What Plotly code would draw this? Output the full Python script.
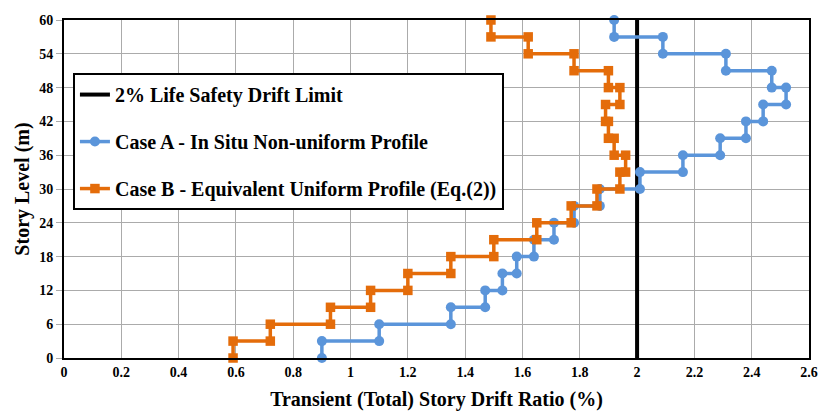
import plotly.graph_objects as go

# Story segments: each segment spans [bottom, bottom+3] m
segment_bottom = [0, 3, 6, 9, 12, 15, 18, 21, 24, 27, 30, 33, 36, 39, 42, 45, 48, 51, 54, 57]
story_height = 3

case_a_drift = [0.90, 1.10, 1.35, 1.47, 1.53, 1.58, 1.64, 1.71, 1.78, 1.87,
                2.01, 2.16, 2.29, 2.38, 2.44, 2.52, 2.47, 2.31, 2.09, 1.92]
case_b_drift = [0.59, 0.72, 0.93, 1.07, 1.20, 1.35, 1.50, 1.65, 1.77, 1.86,
                1.94, 1.96, 1.92, 1.90, 1.89, 1.94, 1.90, 1.78, 1.62, 1.49]

limit_x = [2.0, 2.0]
limit_y = [0, 60]

x_ticks = [0, 0.2, 0.4, 0.6, 0.8, 1.0, 1.2, 1.4, 1.6, 1.8, 2.0, 2.2, 2.4, 2.6]
x_tick_text = ["0", "0.2", "0.4", "0.6", "0.8", "1", "1.2", "1.4", "1.6", "1.8", "2", "2.2", "2.4", "2.6"]
y_ticks = [0, 6, 12, 18, 24, 30, 36, 42, 48, 54, 60]


def step_points(drifts):
    xs, ys = [], []
    for b, d in zip(segment_bottom, drifts):
        xs += [d, d]
        ys += [b, b + story_height]
    return xs, ys


ax, ay = step_points(case_a_drift)
bx, by = step_points(case_b_drift)

FONT = "Liberation Serif, Times New Roman, serif"
BLUE = "#5B95DA"
ORANGE = "#E46C0A"
GRID = "#ababab"

fig = go.Figure()
fig.add_trace(go.Scatter(
    x=limit_x, y=limit_y, mode="lines", name="2% Life Safety Drift Limit",
    line=dict(color="black", width=4), legendgroup="g1"))
fig.add_trace(go.Scatter(
    x=ax, y=ay, mode="lines+markers", name="Case A - In Situ Non-uniform Profile",
    line=dict(color=BLUE, width=3.5), marker=dict(symbol="circle", size=10, color=BLUE),
    legendgroup="g2", cliponaxis=False))
fig.add_trace(go.Scatter(
    x=bx, y=by, mode="lines+markers", name="Case B - Equivalent Uniform Profile (Eq.(2))",
    line=dict(color=ORANGE, width=3.5), marker=dict(symbol="square", size=9.5, color=ORANGE),
    legendgroup="g3", cliponaxis=False))

fig.update_layout(
    width=818, height=412,
    margin=dict(l=64, r=9, t=20, b=54, autoexpand=False),
    paper_bgcolor="white", plot_bgcolor="white",
    font=dict(family=FONT, color="black", weight="bold"),
    showlegend=True,
    legend=dict(
        x=0.012, y=0.843, xanchor="left", yanchor="top",
        bgcolor="white", bordercolor="black", borderwidth=2,
        font=dict(family=FONT, size=20, color="black", weight="bold"),
        traceorder="grouped", tracegroupgap=18, itemwidth=30,
    ),
    xaxis=dict(
        range=[0, 2.6], tickvals=x_ticks, ticktext=x_tick_text,
        showgrid=True, gridcolor=GRID, gridwidth=1,
        showline=True, linecolor="black", linewidth=2, mirror=True,
        zeroline=False, ticks="", automargin=False,
        tickfont=dict(family=FONT, size=14, weight="bold"),
        title=dict(text="Transient (Total) Story Drift Ratio (%)",
                   font=dict(family=FONT, size=20, weight="bold"), standoff=13),
    ),
    yaxis=dict(
        range=[0, 60], tickvals=y_ticks,
        showgrid=True, gridcolor=GRID, gridwidth=1,
        showline=True, linecolor="black", linewidth=2, mirror=True,
        zeroline=False, ticks="outside", ticklen=6, tickcolor=GRID, automargin=False,
        tickfont=dict(family=FONT, size=14, weight="bold"),
        title=dict(text="Story Level (m)",
                   font=dict(family=FONT, size=20, weight="bold"), standoff=4),
    ),
)

fig.write_html("out.html")
